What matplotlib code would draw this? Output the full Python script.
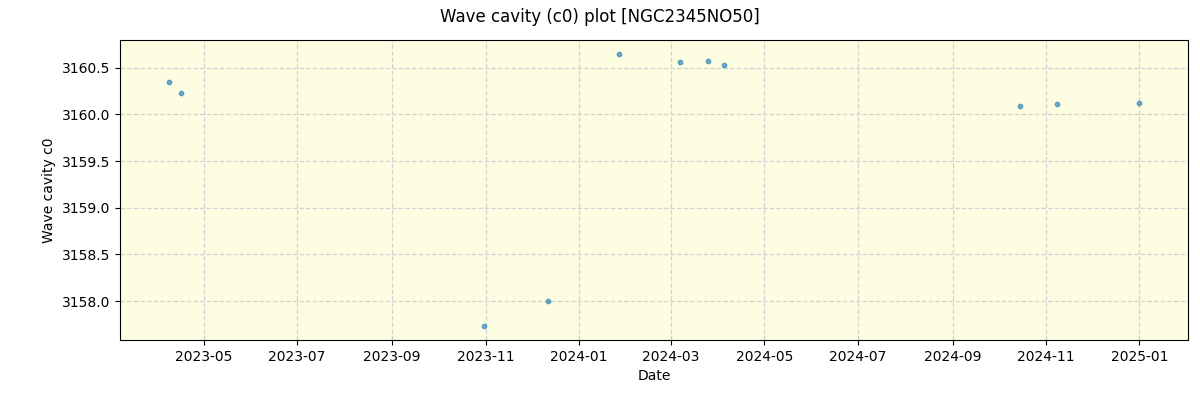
import pandas as pd
import matplotlib.pyplot as plt

dates = pd.to_datetime([
    "2023-04-08", "2023-04-16", "2023-10-31", "2023-12-12",
    "2024-01-27", "2024-03-07", "2024-03-25", "2024-04-05",
    "2024-10-15", "2024-11-08", "2025-01-01",
])
c0 = [3160.35, 3160.23, 3157.73, 3158.00,
      3160.65, 3160.56, 3160.575, 3160.53,
      3160.09, 3160.11, 3160.12]

fig, ax = plt.subplots(figsize=(12, 4), dpi=100)
fig.subplots_adjust(left=0.1, right=0.99, top=0.9, bottom=0.15)

ax.scatter(dates, c0, s=10, color="tab:blue", alpha=0.6, zorder=3)
ax.set_facecolor("#fdfde1")
ax.grid(color="lightgray", linestyle="--", linewidth=0.9)

ax.set_xlabel("Date")
ax.set_ylabel("Wave cavity c0")
fig.suptitle("Wave cavity (c0) plot [NGC2345NO50]")

fig.savefig("out.png")
